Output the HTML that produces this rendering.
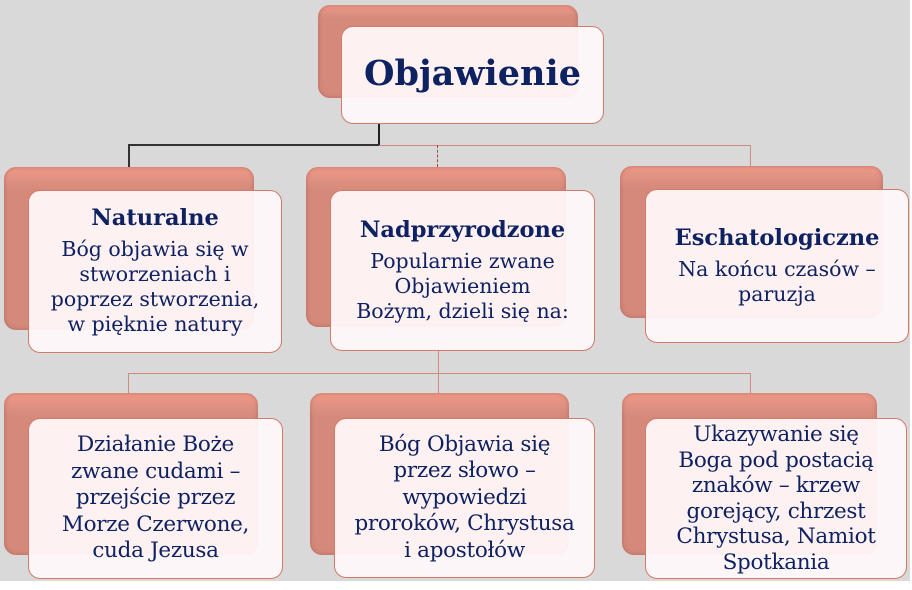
<!DOCTYPE html>
<html><head><meta charset="utf-8"><style>
*{margin:0;padding:0;box-sizing:border-box}
body{width:912px;height:590px;background:#fff;position:relative;overflow:hidden;font-family:"DejaVu Serif","Liberation Serif",serif;color:#0e2161}
.bg{position:absolute;left:0;top:0;width:910px;height:581px;background:#d9d9d9}
.b{position:absolute;border-radius:12px;background:linear-gradient(#ee9a88,#d4897a 15%,#d4897a);box-shadow:inset 0 0 4px rgba(150,70,60,.5)}
.f{position:absolute;border-radius:12px;background:rgba(255,248,250,.94);border:1.5px solid #d47a68;display:flex;flex-direction:column;align-items:center;justify-content:center;text-align:center;font-size:20.5px;line-height:25px;white-space:nowrap}
.f b{font-size:22.5px}
.r3{font-size:21.5px;line-height:26.5px;letter-spacing:-0.3px}
.l{position:absolute}
</style></head><body>
<div class="bg"></div>
<div class="b" style="left:318px;top:5px;width:260px;height:93px"></div>
<div class="f" style="left:341px;top:26px;width:263px;height:98px;font-size:35px;font-weight:bold;padding-bottom:4px">Objawienie</div>

<div class="l" style="left:378px;top:124px;width:1.5px;height:21px;background:#222"></div>
<div class="l" style="left:128px;top:144px;width:251px;height:1.5px;background:#333"></div>
<div class="l" style="left:128px;top:144px;width:1.5px;height:23px;background:#333"></div>
<div class="l" style="left:379px;top:145px;width:372px;height:1px;background:#d08b80"></div>
<div class="l" style="left:750px;top:145px;width:1px;height:22px;background:#d08b80"></div>
<div class="l" style="left:437px;top:145px;width:0;height:22px;border-left:1px dashed #9a4a40"></div>

<div class="b" style="left:4px;top:167px;width:250px;height:163px"></div>
<div class="f" style="left:28px;top:190px;width:254px;height:163px"><b>Naturalne</b><span style="margin-top:6px">Bóg objawia się w<br>stworzeniach i<br>poprzez stworzenia,<br>w pięknie natury</span></div>
<div class="b" style="left:306px;top:167px;width:260px;height:160px"></div>
<div class="f" style="left:330px;top:190px;width:265px;height:161px"><b style="margin-bottom:6px">Nadprzyrodzone</b><span>Popularnie zwane<br>Objawieniem<br>Bożym, dzieli się na:</span></div>
<div class="b" style="left:620px;top:166px;width:263px;height:152px"></div>
<div class="f" style="left:645px;top:189px;width:264px;height:154px"><b style="margin-bottom:6px">Eschatologiczne</b><span>Na końcu czasów –<br>paruzja</span></div>

<div class="l" style="left:438px;top:351px;width:1px;height:42px;background:#d08b80"></div>
<div class="l" style="left:128px;top:373px;width:623px;height:1px;background:#d08b80"></div>
<div class="l" style="left:128px;top:373px;width:1px;height:20px;background:#d08b80"></div>
<div class="l" style="left:750px;top:373px;width:1px;height:20px;background:#d08b80"></div>

<div class="b" style="left:4px;top:393px;width:254px;height:162px"></div>
<div class="f r3" style="left:28px;top:418px;width:255px;height:161px">Działanie Boże<br>zwane cudami –<br>przejście przez<br>Morze Czerwone,<br>cuda Jezusa</div>
<div class="b" style="left:310px;top:393px;width:259px;height:162px"></div>
<div class="f r3" style="left:334px;top:418px;width:261px;height:160px">Bóg Objawia się<br>przez słowo –<br>wypowiedzi<br>proroków, Chrystusa<br>i apostołów</div>
<div class="b" style="left:622px;top:393px;width:255px;height:162px"></div>
<div class="f r3" style="left:645px;top:418px;width:262px;height:161px;line-height:25.5px">Ukazywanie się<br>Boga pod postacią<br>znaków – krzew<br>gorejący, chrzest<br>Chrystusa, Namiot<br>Spotkania</div>
</body></html>
